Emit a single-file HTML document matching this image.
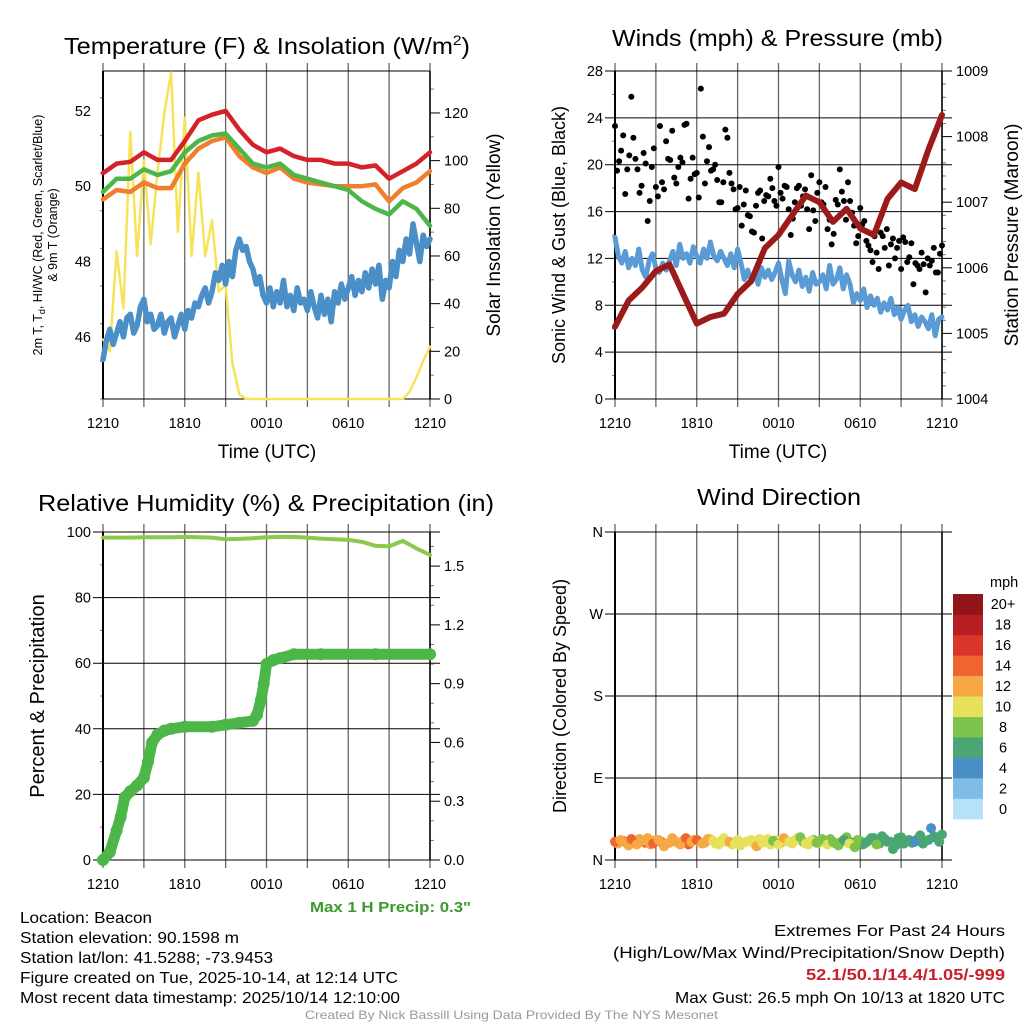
<!DOCTYPE html>
<html><head><meta charset="utf-8"><style>
body{margin:0;background:#fff}
svg{display:block;font-family:"Liberation Sans",sans-serif}
</style></head><body>
<svg id="fig" width="1024" height="1024" viewBox="0 0 1024 1024" xmlns="http://www.w3.org/2000/svg">
<rect width="1024" height="1024" fill="#fff"/>
<text x="64" y="54" font-size="23" textLength="406" lengthAdjust="spacingAndGlyphs">Temperature (F) &amp; Insolation (W/m<tspan font-size="14" dy="-9">2</tspan><tspan dy="9">)</tspan></text>
<text x="612" y="46" font-size="23" textLength="331" lengthAdjust="spacingAndGlyphs">Winds (mph) &amp; Pressure (mb)</text>
<text x="38" y="511" font-size="23" textLength="456" lengthAdjust="spacingAndGlyphs">Relative Humidity (%) &amp; Precipitation (in)</text>
<text x="697" y="505" font-size="23" textLength="164" lengthAdjust="spacingAndGlyphs">Wind Direction</text>
<g id="g"></g>
<text x="310" y="912" font-size="15" font-weight="bold" fill="#3a9a2a" textLength="161" lengthAdjust="spacingAndGlyphs">Max 1 H Precip: 0.3"</text>
<g font-size="16">
<text x="20" y="923" textLength="132" lengthAdjust="spacingAndGlyphs">Location: Beacon</text>
<text x="20" y="943" textLength="219" lengthAdjust="spacingAndGlyphs">Station elevation: 90.1598 m</text>
<text x="20" y="963" textLength="253" lengthAdjust="spacingAndGlyphs">Station lat/lon: 41.5288; -73.9453</text>
<text x="20" y="983" textLength="378" lengthAdjust="spacingAndGlyphs">Figure created on Tue, 2025-10-14, at 12:14 UTC</text>
<text x="20" y="1003" textLength="380" lengthAdjust="spacingAndGlyphs">Most recent data timestamp: 2025/10/14 12:10:00</text>
</g>
<g font-size="16" text-anchor="end">
<text x="1005" y="936" textLength="231" lengthAdjust="spacingAndGlyphs">Extremes For Past 24 Hours</text>
<text x="1005" y="958" textLength="392" lengthAdjust="spacingAndGlyphs">(High/Low/Max Wind/Precipitation/Snow Depth)</text>
<text x="1005" y="980" font-weight="bold" fill="#c8202a" textLength="199" lengthAdjust="spacingAndGlyphs">52.1/50.1/14.4/1.05/-999</text>
<text x="1005" y="1003" textLength="330" lengthAdjust="spacingAndGlyphs">Max Gust: 26.5 mph On 10/13 at 1820 UTC</text>
</g>
<text x="305" y="1019" font-size="12" fill="#999" textLength="413" lengthAdjust="spacingAndGlyphs">Created By Nick Bassill Using Data Provided By The NYS Mesonet</text>
</svg>
<script>
// ---- data (hours since 1210 UTC) ----
const xTickLabels=["1210","1810","0010","0610","1210"];
const hourly=[0,1,2,3,4,5,6,7,8,9,10,11,12,13,14,15,16,17,18,19,20,21,22,23,24];
const halfHourly=[0,0.5,1,1.5,2,2.5,3,3.5,4,4.5,5,5.5,6,6.5,7,7.5,8,8.5,9,9.5,10,10.5,11,11.5,12,12.5,13,13.5,14,14.5,15,15.5,16,16.5,17,17.5,18,18.5,19,19.5,20,20.5,21,21.5,22,22.5,23,23.5,24];
const tempRed=[50.35,50.6,50.65,50.9,50.7,50.7,51.2,51.75,51.9,52.0,51.5,51.1,50.9,51.0,50.8,50.7,50.7,50.6,50.6,50.5,50.55,50.2,50.4,50.6,50.9];
const hiGreen=[49.85,50.2,50.2,50.45,50.3,50.4,50.9,51.2,51.35,51.4,51.0,50.6,50.5,50.6,50.3,50.2,50.1,50.0,49.9,49.6,49.4,49.25,49.6,49.4,48.95];
const t9Orange=[49.65,49.9,49.85,50.1,49.95,49.95,50.6,51.0,51.2,51.3,50.8,50.5,50.35,50.5,50.2,50.1,50.05,50.0,50.0,50.0,50.05,49.6,49.95,50.1,50.4];
const dewBlue=[45.4,45.9,46.2,45.8,46.1,46.4,46.0,46.5,46.6,46.1,46.3,46.8,47.0,46.4,46.6,46.2,
46.3,46.6,46.1,46.4,46.5,46.0,46.3,46.6,46.2,46.7,46.5,46.9,46.8,47.1,47.3,46.9,
47.2,47.7,47.5,47.9,47.4,48.0,47.6,48.3,48.6,48.3,48.4,48.0,47.8,47.4,47.6,47.1,
46.9,47.3,46.8,47.2,46.9,47.5,46.8,47.1,46.7,47.3,46.9,47.0,46.7,47.2,46.8,46.5,
47.1,46.6,47.0,46.4,47.2,46.9,47.4,47.0,47.3,47.6,47.1,47.5,47.2,47.7,47.3,47.8,
47.4,47.9,47.0,47.5,47.3,48.0,47.6,48.3,48.0,48.6,48.2,49.0,48.5,48.0,48.7,48.4,48.6];
const solar=[25,20,62,38,112,60,100,65,95,120,137,70,118,60,95,60,75,45,48,15,2,0,0,0,0,0,0,0,0,0,0,0,0,0,0,0,0,0,0,0,0,0,0,0,0,3,9,16,22];
const windBlue=[13.8,12.2,11.6,12.6,11.2,12.0,11.4,12.8,11.0,10.4,11.8,12.4,11.2,10.8,11.6,11.0,
11.8,12.6,11.4,13.2,12.0,12.4,11.6,13.0,12.2,11.6,12.8,12.0,13.4,12.2,11.8,12.6,
12.0,11.4,12.4,11.2,12.8,11.6,10.2,11.0,10.0,10.8,9.8,11.2,10.4,11.0,10.2,10.8,
11.6,10.2,9.0,11.8,10.6,10.0,11.0,9.6,10.4,9.2,10.8,9.8,10.0,10.6,9.4,11.4,
9.8,10.2,11.2,9.4,10.6,9.8,8.2,9.0,8.4,9.4,7.8,8.8,8.0,8.6,7.4,8.2,
7.6,8.6,7.2,7.8,6.8,7.6,8.0,6.6,7.2,6.2,7.0,6.6,6.0,7.2,5.4,6.8,7.0];
const pressure=[1005.1,1005.5,1005.7,1005.95,1006.05,1005.6,1005.15,1005.25,1005.3,1005.6,1005.8,1006.3,1006.5,1006.8,1007.1,1007.0,1006.7,1006.9,1006.6,1006.5,1007.05,1007.3,1007.2,1007.8,1008.33];
const gustVals=[23.3,20.3,22.5,19.6,25.8,20.5,17.6,21,15.2,19.8,18.1,23.3,17.9,20.5,22.9,18.4,20.6,23.4,17.1,20.6,19.3,26.5,18.4,21.5,19.6,18.7,16.8,23,19.3,17.9,16.3,14.8,17.8,15.6,14.2,17.6,13.7,17.4,18.8,16.9,19.8,17.1,18.1,14,16.8,18.2,17.3,16.2,19.1,15.2,18.5,16.6,14.5,13.2,17,19.6,16.9,18.5,15.9,13.3,16.3,15.2,13.1,11.7,12.5,14.2,12.9,11.4,13.7,12.9,11.1,13.4,12.1,9.8,11.4,12.5,9.1,11.4,12.9,10.8,13.1];
const gustVals2=[19.5,21.2,17.5,20.8,22.3,19.6,18.2,20.1,16.9,21.4,17.3,18.5,22.0,20.4,18.9,19.8,20.2,23.5,18.8,19.2,17.2,22.4,20.3,19.5,20.0,16.8,18.5,22.3,18.4,16.2,18.1,16.6,15.7,14.3,16.5,17.8,16.9,17.3,18.0,16.5,17.6,18.2,16.2,15.4,18.0,16.5,17.9,14.5,16.1,17.6,16.8,18.1,15.3,14.1,16.6,17.7,15.3,16.9,14.8,13.9,14.9,13.5,12.7,13.9,11.1,13.9,14.5,13.2,12.0,13.5,13.8,11.7,13.3,11.6,11.1,11.5,12.0,11.8,10.8,12.4];
const rhVals=[98.3,98.3,98.3,98.4,98.4,98.4,98.5,98.4,98.3,97.8,97.9,98.1,98.4,98.5,98.5,98.3,98.0,97.8,97.6,97.0,95.8,95.6,97.3,95.0,93.0];
const precipHours=[0,0.5,1,1.3,1.6,2,2.5,3,3.3,3.6,4,4.5,5,6,8,9,10,11,11.3,11.6,11.8,12,12.5,13,14,16,20,24];
const precipVals=[0,0.04,0.15,0.22,0.32,0.35,0.38,0.42,0.5,0.6,0.64,0.66,0.67,0.68,0.68,0.69,0.7,0.71,0.74,0.82,0.9,1.0,1.02,1.03,1.05,1.05,1.05,1.05];
const dirVals=[20,22,19,23,17,21,24,18,22,15,19,21,17,24,20,22,18,23,21,17,24,20,18,16,20,22,15,19,23,21,17,24,20,22,25,18,21,19,23,17,20,16,22,18,14,21,19,24,17,26,20,12,24,18,22,20,27,21,35,24,28];
const dirSpeed=[15,13,12.5,14,12,13,12.5,15,12.5,13.5,12,12.5,13,14.5,12,15,12.5,13,11,10.5,11,12,10,11.5,10,10.5,12,10,10.5,9.5,11,12.5,10,10.5,9.5,10.5,10,9,8.5,10,8,9,7.5,10,8,8.5,7,6.5,8.5,7,6.5,7.5,6,6.5,6.5,5.5,7,6.5,4.5,7,7.5];
const dirVals2=[18,21,16,20,23,19,17,22,20,18,24,19,21,17,22,20,19,23,18,21,20,17,22,19,21,18,23,20,17,22,19,21,18,24,20,17,22,19,21,23,18,20,25,19,22,17,21,24,18,23,20,16,25,21,19,23,18,22,26,20];
const dirSpeed2=[13,14,12.5,13,12,14,13,12.5,14,13,12,13.5,12,14,12.5,11,12,10.5,11,10,11,10.5,10,11.5,10,10.5,10,11,10,10.5,12,10,11,10,9.5,10,9,10,8.5,9,8,8.5,9,7.5,8,7,8.5,7,6.5,7,6,7.5,6.5,7,6,6.5,7,5.5,6.5,7];
const cbLabels=["0","2","4","6","8","10","12","14","16","18","20+"];
const cbColors=["#b5e2f8","#80bce5","#4a8fc6","#4aa673","#7cc24b","#e6e05a","#f6a845","#ef6530","#db342b","#b81f25","#921519"];

const quarterHours=[];for(let i=0;i<=96;i++)quarterHours.push(i*0.25);
const gustHours=[];for(let i=0;i<gustVals.length;i++)gustHours.push(i*0.3);
const gustHours2=[];for(let i=0;i<gustVals2.length;i++)gustHours2.push(0.15+i*0.3);
const dirHours=[];for(let i=0;i<dirVals.length;i++)dirHours.push(i*0.4);
const dirHours2=[];for(let i=0;i<dirVals2.length;i++)dirHours2.push(0.2+i*0.4);

const NS="http://www.w3.org/2000/svg";
const G=document.getElementById('g');
function mk(tag,attrs,parent){const e=document.createElementNS(NS,tag);for(const k in attrs)e.setAttribute(k,attrs[k]);(parent||G).appendChild(e);return e;}
function txt(s,attrs,parent){const e=mk('text',attrs,parent);e.textContent=s;return e;}

function panel(name,x0,y0,leftMin,leftMax,leftMajor,leftMinor,rightMin,rightMax,rightMajor,rightMinor,rightFmt,leftLabels){
  const W=327,H=328;
  const P={x0,y0,W,H};
  P.x=h=>x0+h/24*W;
  P.yl=v=>y0+H-(v-leftMin)/(leftMax-leftMin)*H;
  P.yr=v=>y0+H-(v-rightMin)/(rightMax-rightMin)*H;
  const g=mk('g',{});
  
  
  for(let i=0;i<=8;i++){const xx=x0+i*W/8;mk('line',{x1:xx,x2:xx,y1:y0-8,y2:y0+H+8,stroke:'#666','stroke-width':1.3},g);}
  for(let v=leftMin;v<=leftMax+1e-9;v+=leftMinor){
    const yy=P.yl(v);
    const isMaj=Math.abs(((v-leftMajor[0])/leftMajor[1])-Math.round((v-leftMajor[0])/leftMajor[1]))<1e-6;
    if(isMaj){mk('line',{x1:x0-10,x2:x0+W+10,y1:yy,y2:yy,stroke:'#000','stroke-width':1},g);}
    else mk('line',{x1:x0-3,x2:x0,y1:yy,y2:yy,stroke:'#777','stroke-width':1},g);
  }
  if(leftLabels){leftLabels.forEach(l=>{const t=txt(l[0],{x:x0-12,y:P.yl(l[1])+5,'font-size':14.5,'text-anchor':'end'},g);});}
  if(rightMax!==null){
    for(let v=rightMin;v<=rightMax+1e-9;v+=rightMinor){
      const yy=P.yr(v);
      const k=(v-rightMin)/rightMajor;
      const isMaj=Math.abs(k-Math.round(k))<1e-6;
      mk('line',{x1:x0+W,x2:x0+W+(isMaj?10:4),y1:yy,y2:yy,stroke:isMaj?'#000':'#777','stroke-width':1},g);
      if(isMaj){const t=txt(rightFmt(v),{x:x0+W+14,y:yy+5,'font-size':14.5},g);}
    }
  }
  mk('line',{x1:x0,x2:x0,y1:y0,y2:y0+H,stroke:'#000','stroke-width':2},g);
  mk('line',{x1:x0+W,x2:x0+W,y1:y0,y2:y0+H,stroke:'#000','stroke-width':1.5},g);
  mk('line',{x1:x0,x2:x0+W,y1:y0,y2:y0,stroke:'#000','stroke-width':1},g);
  mk('line',{x1:x0,x2:x0+W,y1:y0+H,y2:y0+H,stroke:'#000','stroke-width':1},g);
  xTickLabels.forEach((l,i)=>{const t=txt(l,{x:x0+i*W/4,y:y0+H+29,'font-size':14.5,'text-anchor':'middle'},g);});
  return P;
}
function line(P,xs,ys,yf,color,w,name){
  const d=xs.map((h,i)=>(i?'L':'M')+P.x(h).toFixed(1)+','+yf(ys[i]).toFixed(1)).join('');
  const p=mk('path',{d,fill:'none',stroke:color,'stroke-width':w,'stroke-linejoin':'round','stroke-linecap':'round'});
  
  
  return p;
}

// Panel 1
const P1=panel('temp',103,71,44.35,53.06,[46,2],1,0,137.6,20,10,v=>String(v),[["46",46],["48",48],["50",50],["52",52]]);
line(P1,halfHourly,solar,P1.yr,'#f7e35a',2.5,'solar-line');
line(P1,quarterHours,dewBlue,P1.yl,'#4a8fc7',5.5,'dewpoint-line');
line(P1,hourly,t9Orange,P1.yl,'#f07f2c',4.5,'temp9m-line');
line(P1,hourly,hiGreen,P1.yl,'#4cb748',4.5,'heat-index-line');
line(P1,hourly,tempRed,P1.yl,'#d5222a',4.5,'temp2m-line');
txt('Time (UTC)',{x:267,y:458,'font-size':19,'text-anchor':'middle'});
txt('Solar Insolation (Yellow)',{x:0,y:0,'font-size':19,'text-anchor':'middle',transform:'translate(500,235) rotate(-90)'});
const lt=txt('',{x:0,y:0,'font-size':12.5,'text-anchor':'middle',transform:'translate(42,235) rotate(-90)'});

lt.innerHTML='<tspan x="0" dy="0">2m T, T<tspan font-size="9" dy="3">d</tspan><tspan dy="-3">, HI/WC (Red, Green, Scarlet/Blue)</tspan></tspan><tspan x="0" dy="15">&amp; 9m T (Orange)</tspan>';

// Panel 2
const P2=panel('wind',615,71,0,28,[0,4],2,1004,1009,1,0.2,v=>String(Math.round(v)),[["0",0],["4",4],["8",8],["12",12],["16",16],["20",20],["24",24],["28",28]]);
line(P2,quarterHours,windBlue,P2.yl,'#5a9bd5',5,'wind-speed-line');
gustHours.forEach((h,i)=>{const c=mk('circle',{cx:P2.x(h),cy:P2.yl(gustVals[i]),r:3,fill:'#000'});});
gustHours2.forEach((h,i)=>{const c=mk('circle',{cx:P2.x(h),cy:P2.yl(gustVals2[i]),r:3,fill:'#000'});});
line(P2,hourly,pressure,P2.yr,'#9b1a1a',6,'pressure-line');
txt('Time (UTC)',{x:778,y:458,'font-size':19,'text-anchor':'middle'});
txt('Sonic Wind & Gust (Blue, Black)',{x:0,y:0,'font-size':18,'text-anchor':'middle',transform:'translate(565,235) rotate(-90)'});
txt('Station Pressure (Maroon)',{x:0,y:0,'font-size':19,'text-anchor':'middle',transform:'translate(1018,235) rotate(-90)'});

// Panel 3
const P3=panel('rh',103,532,0,100,[0,20],10,0,1.674,0.3,0.1,v=>v.toFixed(1),[["0",0],["20",20],["40",40],["60",60],["80",80],["100",100]]);
line(P3,hourly,rhVals,P3.yl,'#8cc84b',4,'rh-line');
line(P3,precipHours,precipVals,P3.yr,'#4cb748',11,'precip-line');
precipHours.forEach((h,i)=>{const c=mk('circle',{cx:P3.x(h),cy:P3.yr(precipVals[i]),r:6,fill:'#4cb748'});});
txt('Percent & Precipitation',{x:0,y:0,'font-size':20,'text-anchor':'middle',transform:'translate(44,696) rotate(-90)'});

// Panel 4
const P4=panel('winddir',615,532,0,360,[0,90],90,null,null,0,0,null,[["N",0],["E",90],["S",180],["W",270],["N",360]]);
function spdColor(s){return cbColors[Math.min(10,Math.floor(s/2))];}
dirHours2.forEach((h,i)=>{const c=mk('circle',{cx:P4.x(h),cy:P4.yl(dirVals2[i]),r:5,fill:spdColor(dirSpeed2[i])});});
dirHours.forEach((h,i)=>{const c=mk('circle',{cx:P4.x(h),cy:P4.yl(dirVals[i]),r:5,fill:spdColor(dirSpeed[i])});});
txt('Direction (Colored By Speed)',{x:0,y:0,'font-size':18,'text-anchor':'middle',transform:'translate(566,696) rotate(-90)'});
const cb=mk('g',{});


const cbTop=594,cbBot=819,cbH=(cbBot-cbTop)/cbColors.length;
cbColors.forEach((c,i)=>{const r=mk('rect',{x:953,y:cbBot-(i+1)*cbH,width:30,height:cbH+0.3,fill:c},cb);
  const t=txt(cbLabels[i],{x:1003,y:cbBot-(i+0.5)*cbH+5,'font-size':14.5,'text-anchor':'middle'},cb);});
txt('mph',{x:990,y:587,'font-size':14.5});
</script>
</body></html>
